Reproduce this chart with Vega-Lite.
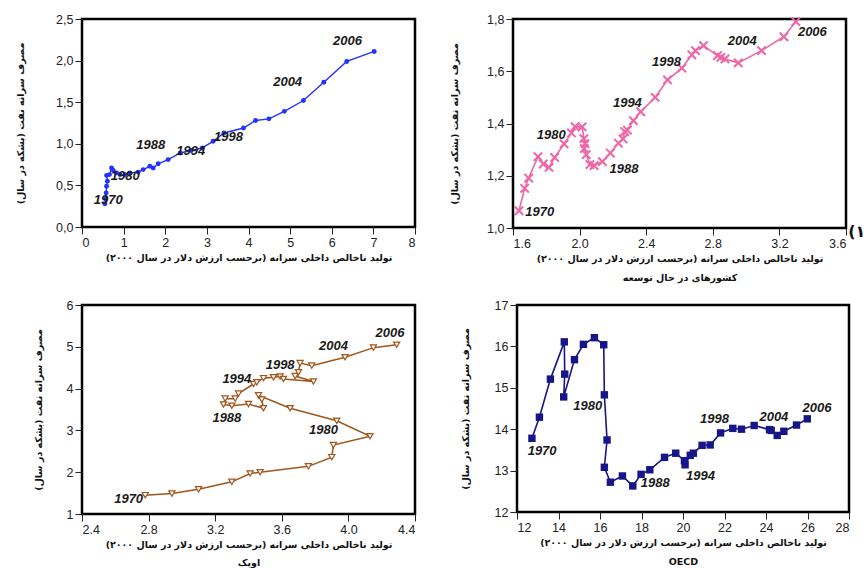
{
  "$schema": "https://vega.github.io/schema/vega-lite/v6.json",
  "background": "white",
  "padding": {"left": 8, "top": 11, "right": 0, "bottom": 0},
  "autosize": {"type": "pad"},
  "config": {
    "view": {"stroke": "black", "strokeWidth": 2.5},
    "axis": {
      "domain": false, "grid": false, "ticks": true, "tickColor": "#222", "tickSize": 7, "tickWidth": 1,
      "labelPadding": 2, "labelFont": "Liberation Sans", "labelFontSize": 12.5, "labelColor": "#222",
      "titleFont": "DejaVu Sans", "titleFontWeight": "bold", "titleFontSize": 9.5, "titleColor": "#111"
    },
    "text": {"font": "Liberation Sans", "fontSize": 13, "fontWeight": "bold", "fontStyle": "italic", "color": "#1a1a1a"}
  },
  "datasets": {
    "world": [
      {"year": 1970, "gdp": 0.55, "oil": 0.28}, {"year": 1971, "gdp": 0.57, "oil": 0.34}, {"year": 1972, "gdp": 0.58, "oil": 0.41},
      {"year": 1973, "gdp": 0.59, "oil": 0.49}, {"year": 1974, "gdp": 0.61, "oil": 0.55}, {"year": 1975, "gdp": 0.59, "oil": 0.62},
      {"year": 1976, "gdp": 0.66, "oil": 0.63}, {"year": 1977, "gdp": 0.71, "oil": 0.71}, {"year": 1978, "gdp": 0.75, "oil": 0.68},
      {"year": 1979, "gdp": 0.83, "oil": 0.65}, {"year": 1980, "gdp": 0.91, "oil": 0.63}, {"year": 1981, "gdp": 1.03, "oil": 0.63},
      {"year": 1982, "gdp": 1.15, "oil": 0.65}, {"year": 1983, "gdp": 1.35, "oil": 0.66}, {"year": 1984, "gdp": 1.47, "oil": 0.69},
      {"year": 1985, "gdp": 1.63, "oil": 0.73}, {"year": 1986, "gdp": 1.71, "oil": 0.71}, {"year": 1987, "gdp": 1.83, "oil": 0.76},
      {"year": 1988, "gdp": 2.07, "oil": 0.81}, {"year": 1989, "gdp": 2.36, "oil": 0.89}, {"year": 1990, "gdp": 2.62, "oil": 0.92},
      {"year": 1991, "gdp": 2.89, "oil": 0.95}, {"year": 1992, "gdp": 3.15, "oil": 1.03}, {"year": 1993, "gdp": 3.41, "oil": 1.13},
      {"year": 1994, "gdp": 3.88, "oil": 1.19}, {"year": 1995, "gdp": 4.17, "oil": 1.28}, {"year": 1996, "gdp": 4.49, "oil": 1.30},
      {"year": 1997, "gdp": 4.86, "oil": 1.39}, {"year": 1998, "gdp": 5.32, "oil": 1.52}, {"year": 1999, "gdp": 5.81, "oil": 1.74},
      {"year": 2000, "gdp": 6.36, "oil": 1.99}, {"year": 2001, "gdp": 7.02, "oil": 2.11}
    ],
    "world_labels": [
      {"gdp": 6.38, "oil": 2.24, "label": "2006"}, {"gdp": 4.94, "oil": 1.745, "label": "2004"},
      {"gdp": 3.52, "oil": 1.08, "label": "1998"}, {"gdp": 2.61, "oil": 0.91, "label": "1994"},
      {"gdp": 1.65, "oil": 0.99, "label": "1988"}, {"gdp": 1.04, "oil": 0.61, "label": "1980"},
      {"gdp": 0.63, "oil": 0.32, "label": "1970"}
    ],
    "dev": [
      {"year": 1, "gdp": 1.636, "oil": 1.066}, {"year": 2, "gdp": 1.670, "oil": 1.152}, {"year": 3, "gdp": 1.694, "oil": 1.191},
      {"year": 4, "gdp": 1.750, "oil": 1.273}, {"year": 5, "gdp": 1.782, "oil": 1.245}, {"year": 6, "gdp": 1.816, "oil": 1.232},
      {"year": 7, "gdp": 1.850, "oil": 1.270}, {"year": 8, "gdp": 1.907, "oil": 1.322}, {"year": 9, "gdp": 1.951, "oil": 1.364},
      {"year": 10, "gdp": 1.973, "oil": 1.388}, {"year": 11, "gdp": 2.015, "oil": 1.387}, {"year": 12, "gdp": 2.026, "oil": 1.342},
      {"year": 13, "gdp": 2.032, "oil": 1.323}, {"year": 14, "gdp": 2.028, "oil": 1.304}, {"year": 15, "gdp": 2.040, "oil": 1.281},
      {"year": 16, "gdp": 2.062, "oil": 1.243}, {"year": 17, "gdp": 2.087, "oil": 1.239}, {"year": 18, "gdp": 2.137, "oil": 1.254},
      {"year": 19, "gdp": 2.185, "oil": 1.287}, {"year": 20, "gdp": 2.233, "oil": 1.325}, {"year": 21, "gdp": 2.261, "oil": 1.341},
      {"year": 22, "gdp": 2.271, "oil": 1.369}, {"year": 23, "gdp": 2.287, "oil": 1.375}, {"year": 24, "gdp": 2.323, "oil": 1.411},
      {"year": 25, "gdp": 2.367, "oil": 1.445}, {"year": 26, "gdp": 2.454, "oil": 1.500}, {"year": 27, "gdp": 2.528, "oil": 1.567},
      {"year": 28, "gdp": 2.614, "oil": 1.612}, {"year": 29, "gdp": 2.674, "oil": 1.663}, {"year": 30, "gdp": 2.696, "oil": 1.679},
      {"year": 31, "gdp": 2.744, "oil": 1.698}, {"year": 32, "gdp": 2.828, "oil": 1.660}, {"year": 33, "gdp": 2.848, "oil": 1.653},
      {"year": 34, "gdp": 2.873, "oil": 1.647}, {"year": 35, "gdp": 2.953, "oil": 1.632}, {"year": 36, "gdp": 3.093, "oil": 1.679},
      {"year": 37, "gdp": 3.227, "oil": 1.732}, {"year": 38, "gdp": 3.299, "oil": 1.790}
    ],
    "dev_labels": [
      {"gdp": 3.398, "oil": 1.749, "label": "2006"}, {"gdp": 2.977, "oil": 1.715, "label": "2004"},
      {"gdp": 2.522, "oil": 1.634, "label": "1998"}, {"gdp": 2.287, "oil": 1.478, "label": "1994"},
      {"gdp": 2.267, "oil": 1.226, "label": "1988"}, {"gdp": 1.830, "oil": 1.357, "label": "1980"},
      {"gdp": 1.760, "oil": 1.063, "label": "1970"}
    ],
    "dev_note": [{"gdp": 3.665, "oil": 0.985, "label": "(۱"}],
    "opec": [
      {"year": 1970, "gdp": 2.78, "oil": 1.45}, {"year": 1971, "gdp": 2.94, "oil": 1.49}, {"year": 1972, "gdp": 3.10, "oil": 1.59},
      {"year": 1973, "gdp": 3.30, "oil": 1.77}, {"year": 1974, "gdp": 3.41, "oil": 1.97}, {"year": 1975, "gdp": 3.47, "oil": 2.00},
      {"year": 1976, "gdp": 3.76, "oil": 2.14}, {"year": 1977, "gdp": 3.90, "oil": 2.36}, {"year": 1978, "gdp": 3.91, "oil": 2.65},
      {"year": 1979, "gdp": 4.13, "oil": 2.86}, {"year": 1980, "gdp": 3.93, "oil": 3.23}, {"year": 1981, "gdp": 3.65, "oil": 3.53},
      {"year": 1982, "gdp": 3.46, "oil": 3.84}, {"year": 1983, "gdp": 3.48, "oil": 3.74}, {"year": 1984, "gdp": 3.49, "oil": 3.53},
      {"year": 1985, "gdp": 3.40, "oil": 3.63}, {"year": 1986, "gdp": 3.30, "oil": 3.59}, {"year": 1987, "gdp": 3.25, "oil": 3.62},
      {"year": 1988, "gdp": 3.26, "oil": 3.76}, {"year": 1989, "gdp": 3.32, "oil": 3.76}, {"year": 1990, "gdp": 3.34, "oil": 3.88},
      {"year": 1991, "gdp": 3.43, "oil": 4.11}, {"year": 1992, "gdp": 3.45, "oil": 4.15}, {"year": 1993, "gdp": 3.49, "oil": 4.25},
      {"year": 1994, "gdp": 3.55, "oil": 4.27}, {"year": 1995, "gdp": 3.59, "oil": 4.29}, {"year": 1996, "gdp": 3.61, "oil": 4.23},
      {"year": 1997, "gdp": 3.79, "oil": 4.17}, {"year": 1998, "gdp": 3.68, "oil": 4.30}, {"year": 1999, "gdp": 3.70, "oil": 4.39},
      {"year": 2000, "gdp": 3.71, "oil": 4.61}, {"year": 2001, "gdp": 3.78, "oil": 4.55}, {"year": 2002, "gdp": 3.98, "oil": 4.75},
      {"year": 2003, "gdp": 4.15, "oil": 4.98}, {"year": 2004, "gdp": 4.29, "oil": 5.05}
    ],
    "opec_labels": [
      {"gdp": 4.25, "oil": 5.32, "label": "2006"}, {"gdp": 3.91, "oil": 5.03, "label": "2004"},
      {"gdp": 3.59, "oil": 4.56, "label": "1998"}, {"gdp": 3.33, "oil": 4.23, "label": "1994"},
      {"gdp": 3.27, "oil": 3.29, "label": "1988"}, {"gdp": 3.85, "oil": 3.01, "label": "1980"},
      {"gdp": 2.68, "oil": 1.37, "label": "1970"}
    ],
    "oecd": [
      {"year": 1970, "gdp": 12.72, "oil": 13.78}, {"year": 1971, "gdp": 13.08, "oil": 14.29}, {"year": 1972, "gdp": 13.61, "oil": 15.21},
      {"year": 1973, "gdp": 14.28, "oil": 16.11}, {"year": 1974, "gdp": 14.30, "oil": 15.33}, {"year": 1975, "gdp": 14.25, "oil": 14.78},
      {"year": 1976, "gdp": 14.77, "oil": 15.68}, {"year": 1977, "gdp": 15.20, "oil": 16.05}, {"year": 1978, "gdp": 15.73, "oil": 16.21},
      {"year": 1979, "gdp": 16.18, "oil": 16.04}, {"year": 1980, "gdp": 16.21, "oil": 14.83}, {"year": 1981, "gdp": 16.34, "oil": 13.74},
      {"year": 1982, "gdp": 16.21, "oil": 13.08}, {"year": 1983, "gdp": 16.50, "oil": 12.72}, {"year": 1984, "gdp": 17.08, "oil": 12.87},
      {"year": 1985, "gdp": 17.58, "oil": 12.63}, {"year": 1986, "gdp": 17.98, "oil": 12.91}, {"year": 1987, "gdp": 18.40, "oil": 13.02},
      {"year": 1988, "gdp": 19.11, "oil": 13.32}, {"year": 1989, "gdp": 19.65, "oil": 13.42}, {"year": 1990, "gdp": 20.07, "oil": 13.24},
      {"year": 1991, "gdp": 20.10, "oil": 13.14}, {"year": 1992, "gdp": 20.35, "oil": 13.37}, {"year": 1993, "gdp": 20.50, "oil": 13.42},
      {"year": 1994, "gdp": 20.92, "oil": 13.61}, {"year": 1995, "gdp": 21.31, "oil": 13.62}, {"year": 1996, "gdp": 21.81, "oil": 13.91},
      {"year": 1997, "gdp": 22.40, "oil": 14.02}, {"year": 1998, "gdp": 22.82, "oil": 14.00}, {"year": 1999, "gdp": 23.43, "oil": 14.09},
      {"year": 2000, "gdp": 24.17, "oil": 13.99}, {"year": 2001, "gdp": 24.25, "oil": 13.97}, {"year": 2002, "gdp": 24.54, "oil": 13.85},
      {"year": 2003, "gdp": 24.86, "oil": 13.95}, {"year": 2004, "gdp": 25.47, "oil": 14.10}, {"year": 2005, "gdp": 25.99, "oil": 14.25}
    ],
    "oecd_labels": [
      {"gdp": 26.46, "oil": 14.51, "label": "2006"}, {"gdp": 24.38, "oil": 14.30, "label": "2004"},
      {"gdp": 21.52, "oil": 14.25, "label": "1998"}, {"gdp": 20.84, "oil": 12.87, "label": "1994"},
      {"gdp": 18.66, "oil": 12.71, "label": "1988"}, {"gdp": 15.41, "oil": 14.57, "label": "1980"},
      {"gdp": 13.21, "oil": 13.47, "label": "1970"}
    ]
  },
  "spacing": 13,
  "vconcat": [
    {
      "bounds": "flush",
      "spacing": 98,
      "hconcat": [
        {
          "width": 333, "height": 208,
          "encoding": {
            "x": {"field": "gdp", "type": "quantitative", "scale": {"domain": [0, 8], "nice": false, "zero": false},
                  "axis": {"values": [0, 1, 2, 3, 4, 5, 6, 7, 8], "title": "تولید ناخالص داخلی سرانه (برحسب ارزش دلار در سال ۲۰۰۰)‏", "titlePadding": 4}},
            "y": {"field": "oil", "type": "quantitative", "scale": {"domain": [0, 2.5], "nice": false, "zero": false},
                  "axis": {"values": [0, 0.5, 1, 1.5, 2, 2.5], "labelExpr": "replace(format(datum.value, '.1f'), '.', ',')", "title": "مصرف سرانه نفت (بشکه در سال)‏", "titlePadding": 30}}
          },
          "layer": [
            {"data": {"name": "world"}, "mark": {"type": "line", "color": "#2233ff", "strokeWidth": 1.4}, "encoding": {"order": {"field": "year", "type": "quantitative"}}},
            {"data": {"name": "world"}, "mark": {"type": "point", "filled": true, "opacity": 1, "size": 24, "color": "#2233ff"}},
            {"data": {"name": "world_labels"}, "mark": {"type": "text"}, "encoding": {"text": {"field": "label"}}}
          ]
        },
        {
          "width": 333, "height": 209,
          "encoding": {
            "x": {"field": "gdp", "type": "quantitative", "scale": {"domain": [1.6, 3.6], "nice": false, "zero": false},
                  "axis": {"values": [1.6, 2.0, 2.4, 2.8, 3.2, 3.6], "format": ".1f", "title": ["تولید ناخالص داخلی سرانه (برحسب ارزش دلار در سال ۲۰۰۰)‏", "کشورهای در حال توسعه"], "titlePadding": 4, "titleLineHeight": 19}},
            "y": {"field": "oil", "type": "quantitative", "scale": {"domain": [1.0, 1.8], "nice": false, "zero": false},
                  "axis": {"values": [1.0, 1.2, 1.4, 1.6, 1.8], "labelExpr": "replace(format(datum.value, '.1f'), '.', ',')", "title": "مصرف سرانه نفت (بشکه در سال)‏", "titlePadding": 27.5}}
          },
          "layer": [
            {"data": {"name": "dev"}, "mark": {"type": "line", "color": "#ee66a6", "strokeWidth": 1.6}, "encoding": {"order": {"field": "year", "type": "quantitative"}}},
            {"data": {"name": "dev"}, "mark": {"type": "point", "shape": "M-1,-1L1,1M-1,1L1,-1", "filled": false, "opacity": 1, "size": 70, "strokeWidth": 2, "color": "#ee66a6"}},
            {"data": {"name": "dev_labels"}, "mark": {"type": "text"}, "encoding": {"text": {"field": "label"}}},
            {"data": {"name": "dev_note"}, "mark": {"type": "text", "fontSize": 16, "fontStyle": "normal", "font": "DejaVu Sans", "color": "#111"}, "encoding": {"text": {"field": "label"}}}
          ]
        }
      ]
    },
    {
      "bounds": "flush",
      "spacing": 102,
      "hconcat": [
        {
          "width": 333, "height": 209,
          "encoding": {
            "x": {"field": "gdp", "type": "quantitative", "scale": {"domain": [2.4, 4.4], "nice": false, "zero": false},
                  "axis": {"values": [2.4, 2.8, 3.2, 3.6, 4.0, 4.4], "format": ".1f", "title": ["تولید ناخالص داخلی سرانه (برحسب ارزش دلار در سال ۲۰۰۰)‏", "اوپک"], "titlePadding": 4, "titleLineHeight": 18}},
            "y": {"field": "oil", "type": "quantitative", "scale": {"domain": [1, 6], "nice": false, "zero": false},
                  "axis": {"values": [1, 2, 3, 4, 5, 6], "format": "d", "title": ["", "مصرف سرانه نفت (بشکه در سال)‏"], "titleLineHeight": 24, "titlePadding": 22.5}}
          },
          "layer": [
            {"data": {"name": "opec"}, "mark": {"type": "line", "color": "#a0561c", "strokeWidth": 1.5}, "encoding": {"order": {"field": "year", "type": "quantitative"}}},
            {"data": {"name": "opec"}, "mark": {"type": "point", "shape": "triangle-down", "filled": true, "fill": "white", "stroke": "#a0561c", "strokeWidth": 1.2, "opacity": 1, "size": 38}},
            {"data": {"name": "opec_labels"}, "mark": {"type": "text"}, "encoding": {"text": {"field": "label"}}}
          ]
        },
        {
          "width": 332, "height": 207,
          "encoding": {
            "x": {"field": "gdp", "type": "quantitative", "scale": {"domain": [12, 28], "nice": false, "zero": false},
                  "axis": {"values": [12, 14, 16, 18, 20, 22, 24, 26, 28], "format": "d", "title": ["تولید ناخالص داخلی سرانه (برحسب ارزش دلار در سال ۲۰۰۰)‏", "OECD"], "titlePadding": 4, "titleLineHeight": 19}},
            "y": {"field": "oil", "type": "quantitative", "scale": {"domain": [12, 17], "nice": false, "zero": false},
                  "axis": {"values": [12, 13, 14, 15, 16, 17], "format": "d", "title": "مصرف سرانه نفت (بشکه در سال)‏", "titlePadding": 23.5}}
          },
          "layer": [
            {"data": {"name": "oecd"}, "mark": {"type": "line", "color": "#161688", "strokeWidth": 1.6}, "encoding": {"order": {"field": "year", "type": "quantitative"}}},
            {"data": {"name": "oecd"}, "mark": {"type": "point", "shape": "square", "filled": true, "opacity": 1, "size": 55, "color": "#161688"}},
            {"data": {"name": "oecd_labels"}, "mark": {"type": "text"}, "encoding": {"text": {"field": "label"}}}
          ]
        }
      ]
    }
  ]
}
